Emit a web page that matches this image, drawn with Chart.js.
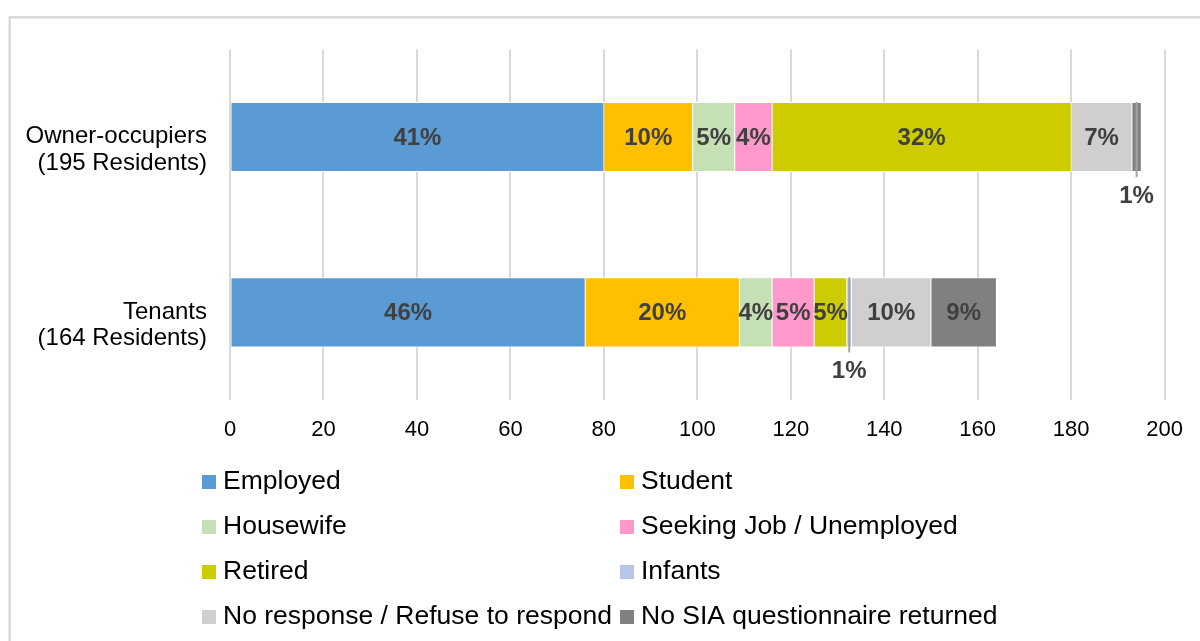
<!DOCTYPE html>
<html>
<head>
<meta charset="utf-8">
<script src="https://cdn.jsdelivr.net/npm/chart.js@4/dist/chart.umd.min.js"></script>
<style>
  html, body { margin: 0; padding: 0; background: #fff; }
  #wrap { position: relative; width: 1200px; height: 641px; }
</style>
</head>
<body>
<div id="wrap"><canvas id="c"></canvas></div>
<script>
// Residents by occupation status, per housing group
const categories = [
  ['Owner-occupiers', '(195 Residents)'],
  ['Tenants', '(164 Residents)']
];
const seriesNames = [
  'Employed', 'Student', 'Housewife', 'Seeking Job / Unemployed',
  'Retired', 'Infants', 'No response / Refuse to respond', 'No SIA questionnaire returned'
];
const seriesColors = [
  '#5B9BD5', '#FFC000', '#C5E0B4', '#FF99CC',
  '#CCCC00', '#B4C7E7', '#D0CECE', '#808080'
];
// resident counts per status (same order as seriesNames)
const ownerCounts  = [80, 19, 9, 8, 64, null, 13, 2];
const tenantCounts = [76, 33, 7, 9, 7, 1, 17, 14];
// percentage labels shown on the segments
const ownerPct  = ['41%', '10%', '5%', '4%', '32%', '', '7%', '1%'];
const tenantPct = ['46%', '20%', '4%', '5%', '5%', '1%', '10%', '9%'];
const xTicks = [0, 20, 40, 60, 80, 100, 120, 140, 160, 180, 200];

const FONT = '"Liberation Sans", Arial, Helvetica, sans-serif';
const pctLabels = [ownerPct, tenantPct];

const datasets = seriesNames.map((name, i) => ({
  label: name,
  data: [ownerCounts[i], tenantCounts[i]],
  backgroundColor: seriesColors[i],
  borderColor: '#ffffff',
  borderWidth: { left: 0.5, right: 0.5, top: 1, bottom: 1 },
  borderSkipped: false
}));

// outer frame around the chart
const framePlugin = {
  id: 'frame',
  beforeDraw(chart) {
    const ctx = chart.ctx;
    ctx.save();
    ctx.strokeStyle = '#d9d9d9';
    ctx.lineWidth = 2.5;
    ctx.strokeRect(9.7, 17.3, 1300, 800);
    ctx.restore();
  }
};

// percentage labels on each segment; thin segments get a leader line and a label below
const segmentLabels = {
  id: 'segmentLabels',
  afterDatasetsDraw(chart) {
    const ctx = chart.ctx;
    ctx.save();
    ctx.font = 'bold 24px ' + FONT;
    ctx.textAlign = 'center';
    ctx.textBaseline = 'middle';
    chart.data.datasets.forEach((ds, i) => {
      const meta = chart.getDatasetMeta(i);
      meta.data.forEach((el, j) => {
        const txt = pctLabels[j][i];
        if (!txt || ds.data[j] == null) return;
        const p = el.getProps(['x', 'base', 'y', 'height'], true);
        const cx = (p.x + p.base) / 2;
        const w = Math.abs(p.x - p.base);
        if (w >= 14) {
          ctx.fillStyle = '#404040';
          ctx.fillText(txt, cx, p.y + 1);
        } else {
          const bottom = p.y + p.height / 2;
          ctx.strokeStyle = '#a6a6a6';
          ctx.lineWidth = 2;
          ctx.beginPath();
          ctx.moveTo(cx, p.y - p.height / 2);
          ctx.lineTo(cx, bottom + 5);
          ctx.stroke();
          ctx.fillStyle = '#404040';
          ctx.fillText(txt, cx, bottom + 24);
        }
      });
    });
    ctx.restore();
  }
};

// two-column legend under the axis
const columnLegend = {
  id: 'columnLegend',
  afterDraw(chart) {
    const ctx = chart.ctx;
    ctx.save();
    ctx.font = '26.5px ' + FONT;
    ctx.textAlign = 'left';
    ctx.textBaseline = 'middle';
    const colBox = [202, 620];
    chart.data.datasets.forEach((ds, i) => {
      const col = i % 2;
      const row = Math.floor(i / 2);
      const cy = 482 + row * 45;
      ctx.fillStyle = ds.backgroundColor;
      ctx.fillRect(colBox[col], cy - 7, 14, 14);
      ctx.fillStyle = '#000000';
      ctx.fillText(ds.label, colBox[col] + 21, cy);
    });
    ctx.restore();
  }
};

new Chart(document.getElementById('c'), {
  type: 'bar',
  data: { labels: categories, datasets },
  options: {
    indexAxis: 'y',
    responsive: true,
    maintainAspectRatio: false,
    animation: false,
    layout: { padding: { top: 46, right: 35, left: 0, bottom: 0 } },
    datasets: { bar: { categoryPercentage: 1, barPercentage: 0.4 } },
    plugins: {
      legend: { display: false },
      tooltip: { enabled: false }
    },
    scales: {
      x: {
        stacked: true,
        min: 0,
        max: 200,
        afterBuildTicks(scale) { scale.ticks = xTicks.map(v => ({ value: v })); },
        afterFit(scale) { scale.height = 241; },
        grid: { color: '#d9d9d9', lineWidth: 2, drawTicks: false },
        border: { display: false },
        ticks: {
          padding: 17,
          color: '#000000',
          font: { family: FONT, size: 22 },
          maxRotation: 0
        }
      },
      y: {
        stacked: true,
        afterFit(scale) { scale.width = 230; },
        grid: { display: false, drawTicks: false },
        border: { display: false },
        ticks: {
          padding: 23,
          labelOffset: 13,
          color: '#000000',
          font: { family: FONT, size: 24, lineHeight: 1.1 }
        }
      }
    }
  },
  plugins: [framePlugin, segmentLabels, columnLegend]
});
</script>
</body>
</html>
